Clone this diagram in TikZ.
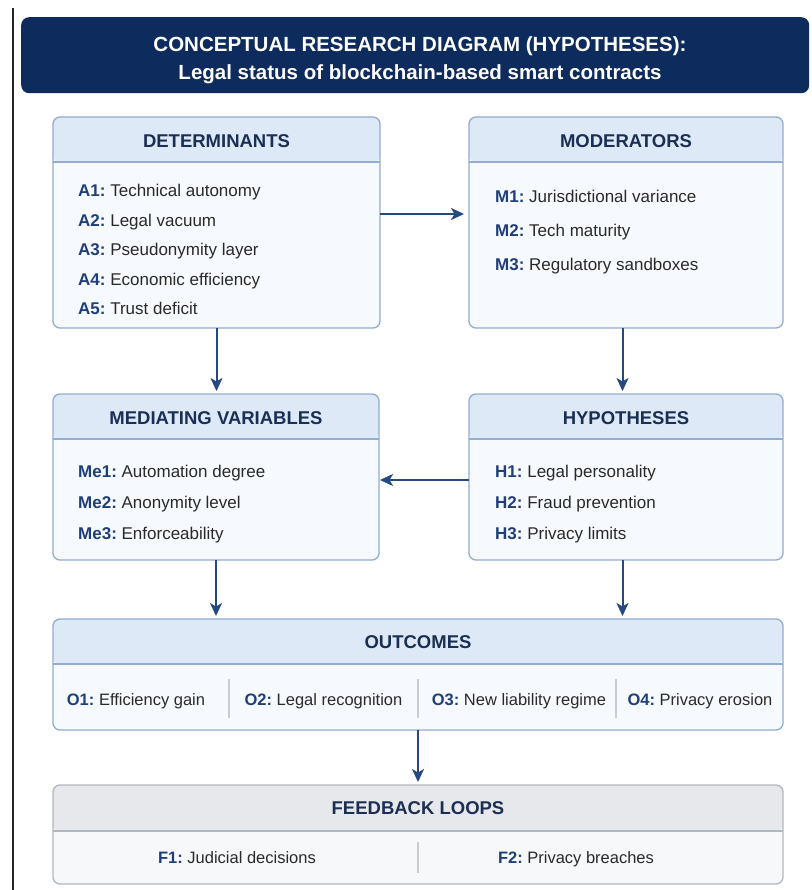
\documentclass[tikz,border=0pt]{standalone}
\usepackage{fontspec}
\setmainfont{Liberation Sans}
\usetikzlibrary{arrows.meta}

\definecolor{navy}{HTML}{0D2B5C}
\definecolor{hdrc}{HTML}{DDE9F7}
\definecolor{bodyc}{HTML}{F6F9FD}
\definecolor{bord}{HTML}{93ADD0}
\definecolor{labc}{HTML}{1F3F7A}
\definecolor{htxt}{HTML}{1B2F55}
\definecolor{txtc}{HTML}{2A2A2A}
\definecolor{arrc}{HTML}{24487F}
\definecolor{fbhdr}{HTML}{E6E8EC}
\definecolor{fbbody}{HTML}{F7F8FA}
\definecolor{fbbord}{HTML}{B2B6BD}
\definecolor{sepc}{HTML}{C9CDD3}

\newcommand\itemlab[1]{\textcolor{labc}{\bfseries #1}}

\tikzset{
  panel/.style={draw=bord, line width=1.3pt, fill=bodyc, rounded corners=7pt,
    inner sep=0pt, outer sep=0pt, anchor=north west,
    path picture={
      \fill[hdrc] (path picture bounding box.north west) rectangle
        ([yshift=-#1]path picture bounding box.east |- path picture bounding box.north);
      \draw[bord, line width=1.3pt] ([yshift=-#1]path picture bounding box.north west) --
        ([yshift=-#1]path picture bounding box.north east);
    }},
  fbpanel/.style={draw=fbbord, line width=1.3pt, fill=fbbody, rounded corners=7pt,
    inner sep=0pt, outer sep=0pt, anchor=north west,
    path picture={
      \fill[fbhdr] (path picture bounding box.north west) rectangle
        ([yshift=-#1]path picture bounding box.east |- path picture bounding box.north);
      \draw[fbbord, line width=1.3pt] ([yshift=-#1]path picture bounding box.north west) --
        ([yshift=-#1]path picture bounding box.north east);
    }},
  hdr/.style={font=\fontsize{18.5}{21}\selectfont\bfseries, text=htxt, inner sep=0pt,
    text height=13.5pt, text depth=0pt},
  entry/.style={font=\fontsize{17}{20}\selectfont, text=txtc, anchor=west, inner sep=0pt,
    text height=12.5pt, text depth=0pt},
  centry/.style={font=\fontsize{16.5}{19}\selectfont, text=txtc, inner sep=0pt,
    text height=12pt, text depth=0pt},
  arr/.style={draw=arrc, line width=2pt,
    -{Stealth[length=13pt, width=12pt, inset=3.5pt]}},
  sep/.style={draw=sepc, line width=1.2pt},
}

\begin{document}
\begin{tikzpicture}[x=1pt, y=-1pt]
\useasboundingbox[fill=white] (0,0) rectangle (811,890);

% left rule
\draw[line width=2.6pt, draw=black!85] (13,8) -- (13,890);

% title banner
\node[fill=navy, rounded corners=8pt, anchor=north west, inner sep=0pt,
      minimum width=788pt, minimum height=76pt] (title) at (21,17) {};
\node[font=\fontsize{20.5}{24}\selectfont\bfseries, text=white, inner sep=0pt,
      text height=15pt, text depth=0pt] (t1) at (420,44)
  {CONCEPTUAL RESEARCH DIAGRAM (HYPOTHESES):};
\node[font=\fontsize{20.5}{24}\selectfont\bfseries, text=white, inner sep=0pt,
      text height=15pt, text depth=0pt] (t2) at (420,72)
  {Legal status of blockchain-based smart contracts};

% determinants
\node[panel=45pt, minimum width=327pt, minimum height=211pt] (det) at (53,117) {};
\node[hdr] (detT) at (216.5,141) {DETERMINANTS};
\node[entry] (a1) at (78,190) {\itemlab{A1:}\ Technical autonomy};
\node[entry] (a2) at (78,220) {\itemlab{A2:}\ Legal vacuum};
\node[entry] (a3) at (78,249) {\itemlab{A3:}\ Pseudonymity layer};
\node[entry] (a4) at (78,279) {\itemlab{A4:}\ Economic efficiency};
\node[entry] (a5) at (78,308) {\itemlab{A5:}\ Trust deficit};

% moderators
\node[panel=45pt, minimum width=314pt, minimum height=211pt] (mod) at (469,117) {};
\node[hdr] (modT) at (626,141) {MODERATORS};
\node[entry] (m1) at (495,196) {\itemlab{M1:}\ Jurisdictional variance};
\node[entry] (m2) at (495,230) {\itemlab{M2:}\ Tech maturity};
\node[entry] (m3) at (495,264) {\itemlab{M3:}\ Regulatory sandboxes};

% mediating variables
\node[panel=45pt, minimum width=326pt, minimum height=166pt] (med) at (53,394) {};
\node[hdr] (medT) at (216,418) {MEDIATING VARIABLES};
\node[entry] (me1) at (78,471) {\itemlab{Me1:}\ Automation degree};
\node[entry] (me2) at (78,502) {\itemlab{Me2:}\ Anonymity level};
\node[entry] (me3) at (78,533) {\itemlab{Me3:}\ Enforceability};

% hypotheses
\node[panel=45pt, minimum width=314pt, minimum height=166pt] (hyp) at (469,394) {};
\node[hdr] (hypT) at (626,418) {HYPOTHESES};
\node[entry] (h1) at (495,471) {\itemlab{H1:}\ Legal personality};
\node[entry] (h2) at (495,502) {\itemlab{H2:}\ Fraud prevention};
\node[entry] (h3) at (495,533) {\itemlab{H3:}\ Privacy limits};

% outcomes
\node[panel=45pt, minimum width=730pt, minimum height=111pt] (out) at (53,619) {};
\node[hdr] (outT) at (418,642) {OUTCOMES};
\node[centry] (o1) at (136,699) {\itemlab{O1:}\ Efficiency gain};
\node[centry] (o2) at (323.5,699) {\itemlab{O2:}\ Legal recognition};
\node[centry] (o3) at (519,699) {\itemlab{O3:}\ New liability regime};
\node[centry] (o4) at (700,699) {\itemlab{O4:}\ Privacy erosion};
\draw[sep] (229,679) -- (229,718);
\draw[sep] (418,679) -- (418,718);
\draw[sep] (616,679) -- (616,718);

% feedback loops
\node[fbpanel=46pt, minimum width=730pt, minimum height=99pt] (fb) at (53,785) {};
\node[hdr] (fbT) at (418,808) {FEEDBACK LOOPS};
\node[centry] (f1) at (237,857) {\itemlab{F1:}\ Judicial decisions};
\node[centry] (f2) at (576,857) {\itemlab{F2:}\ Privacy breaches};
\draw[sep] (418,842) -- (418,873);

% connectors
\draw[arr, shorten >=5pt] ([yshift=8.5pt]det.east) -- ([yshift=8.5pt]mod.west);
\draw[arr, shorten >=3pt] (det.south) -- (det.south |- med.north);
\draw[arr, shorten >=3pt] ([xshift=-3.5pt]mod.south) -- ([xshift=-3.5pt]hyp.north);
\draw[arr, shorten >=1pt] ([yshift=-3pt]hyp.west) -- ([yshift=-3pt]med.east);
\draw[arr, shorten >=3pt] (med.south) -- (med.south |- out.north);
\draw[arr, shorten >=3pt] ([xshift=-3.5pt]hyp.south) -- ([xshift=-3.5pt]hyp.south |- out.north);
\draw[arr, shorten >=3pt] (out.south) -- (fb.north);
\end{tikzpicture}
\end{document}
